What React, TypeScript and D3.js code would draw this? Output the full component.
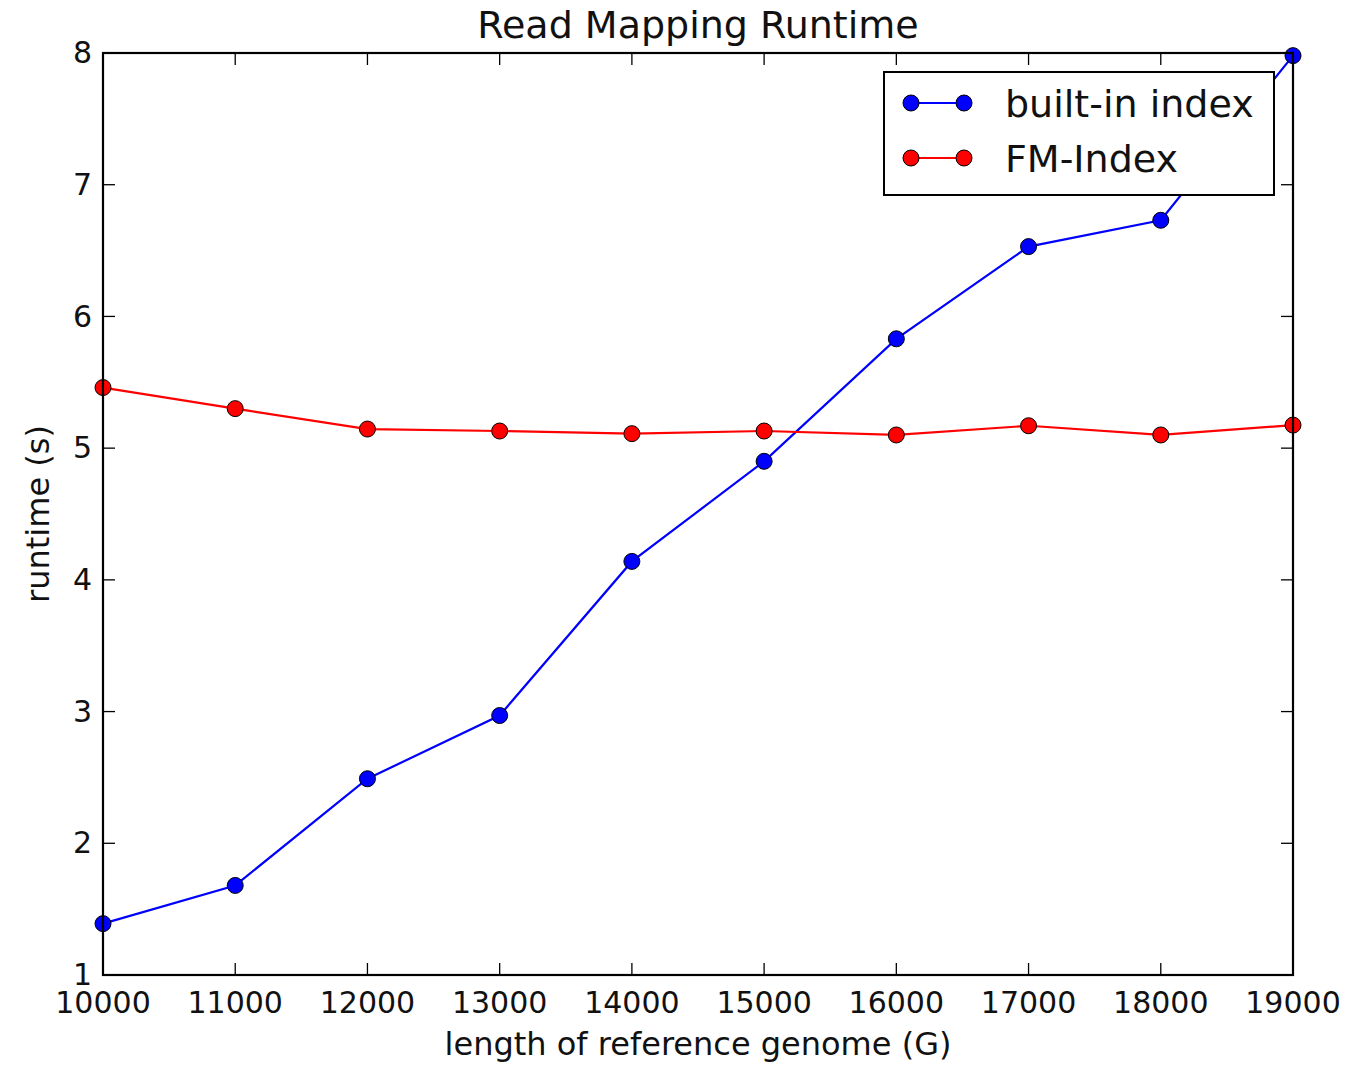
import React, { useEffect, useRef } from "react";
import * as d3 from "d3";

// genome lengths on the x axis
const lengths = [10000, 11000, 12000, 13000, 14000, 15000, 16000, 17000, 18000, 19000];
// runtime in seconds
const builtInRuntime = [1.39, 1.68, 2.49, 2.97, 4.14, 4.9, 5.83, 6.53, 6.73, 7.98];
const fmIndexRuntime = [5.46, 5.3, 5.145, 5.13, 5.11, 5.13, 5.1, 5.17, 5.1, 5.175];
const xTicks = [10000, 11000, 12000, 13000, 14000, 15000, 16000, 17000, 18000, 19000];
const yTicks = [1, 2, 3, 4, 5, 6, 7, 8];

const series = [
  { name: "built-in index", values: builtInRuntime, color: "#0000ff" },
  { name: "FM-Index", values: fmIndexRuntime, color: "#ff0000" },
];

export default function App() {
  const ref = useRef<SVGSVGElement>(null);

  useEffect(() => {
    const width = 1351;
    const height = 1069;
    const margin = { top: 53, right: 58, bottom: 94, left: 103 };
    const font = "'DejaVu Sans', sans-serif";

    const svg = d3.select(ref.current);
    svg.selectAll("*").remove();

    const x = d3.scaleLinear().domain([10000, 19000]).range([margin.left, width - margin.right]);
    const y = d3.scaleLinear().domain([1, 8]).range([height - margin.bottom, margin.top]);
    const tick = 12;

    // tick marks, inside on all four sides (classic matplotlib look)
    const g = svg.append("g");
    xTicks.forEach((t) => {
      g.append("line").attr("x1", x(t)).attr("x2", x(t)).attr("y1", y(1)).attr("y2", y(1) - tick)
        .attr("stroke", "#000").attr("stroke-width", 1.3);
      g.append("line").attr("x1", x(t)).attr("x2", x(t)).attr("y1", y(8)).attr("y2", y(8) + tick)
        .attr("stroke", "#000").attr("stroke-width", 1.3);
      g.append("text").attr("x", x(t)).attr("y", y(1) + 38).attr("text-anchor", "middle")
        .attr("font-family", font).attr("font-size", 30).attr("fill", "#111").text(String(t));
    });
    yTicks.forEach((t) => {
      g.append("line").attr("x1", x(10000)).attr("x2", x(10000) + tick).attr("y1", y(t)).attr("y2", y(t))
        .attr("stroke", "#000").attr("stroke-width", 1.3);
      g.append("line").attr("x1", x(19000)).attr("x2", x(19000) - tick).attr("y1", y(t)).attr("y2", y(t))
        .attr("stroke", "#000").attr("stroke-width", 1.3);
      g.append("text").attr("x", x(10000) - 11).attr("y", y(t)).attr("dy", "0.34em").attr("text-anchor", "end")
        .attr("font-family", font).attr("font-size", 30).attr("fill", "#111").text(String(t));
    });

    const line = d3.line<number>().x((_, i) => x(lengths[i])).y((d) => y(d));

    series.forEach((s) => {
      svg.append("path").attr("d", line(s.values)).attr("fill", "none")
        .attr("stroke", s.color).attr("stroke-width", 2.2);
      svg.selectAll(null).data(s.values).enter().append("circle")
        .attr("cx", (_, i) => x(lengths[i])).attr("cy", (d) => y(d)).attr("r", 8)
        .attr("fill", s.color).attr("stroke", "#000").attr("stroke-width", 1);
    });

    // frame
    svg.append("rect").attr("x", x(10000)).attr("y", y(8))
      .attr("width", x(19000) - x(10000)).attr("height", y(1) - y(8))
      .attr("fill", "none").attr("stroke", "#000").attr("stroke-width", 2.2);

    // legend
    const lg = svg.append("g");
    lg.append("rect").attr("x", 884).attr("y", 72).attr("width", 390).attr("height", 123)
      .attr("fill", "#fff").attr("stroke", "#000").attr("stroke-width", 2);
    series.forEach((s, i) => {
      const ly = 103 + i * 55;
      lg.append("line").attr("x1", 911).attr("x2", 964).attr("y1", ly).attr("y2", ly)
        .attr("stroke", s.color).attr("stroke-width", 2.2);
      [911, 964].forEach((cx) => {
        lg.append("circle").attr("cx", cx).attr("cy", ly).attr("r", 8)
          .attr("fill", s.color).attr("stroke", "#000").attr("stroke-width", 1);
      });
      lg.append("text").attr("x", 1005).attr("y", ly).attr("dy", "0.36em")
        .attr("font-family", font).attr("font-size", 38).attr("fill", "#111").text(s.name);
    });

    // title and axis labels
    svg.append("text").attr("x", (x(10000) + x(19000)) / 2).attr("y", 38).attr("text-anchor", "middle")
      .attr("font-family", font).attr("font-size", 38).attr("fill", "#111").text("Read Mapping Runtime");
    svg.append("text").attr("x", (x(10000) + x(19000)) / 2).attr("y", 1055).attr("text-anchor", "middle")
      .attr("font-family", font).attr("font-size", 32).attr("fill", "#111").text("length of reference genome (G)");
    svg.append("text").attr("transform", `translate(49,${(y(1) + y(8)) / 2}) rotate(-90)`)
      .attr("text-anchor", "middle")
      .attr("font-family", font).attr("font-size", 32).attr("fill", "#111").text("runtime (s)");
  }, []);

  return (
    <svg ref={ref} width={1351} height={1069}
      style={{ position: "absolute", left: 0, top: 0, background: "#fff" }} />
  );
}
